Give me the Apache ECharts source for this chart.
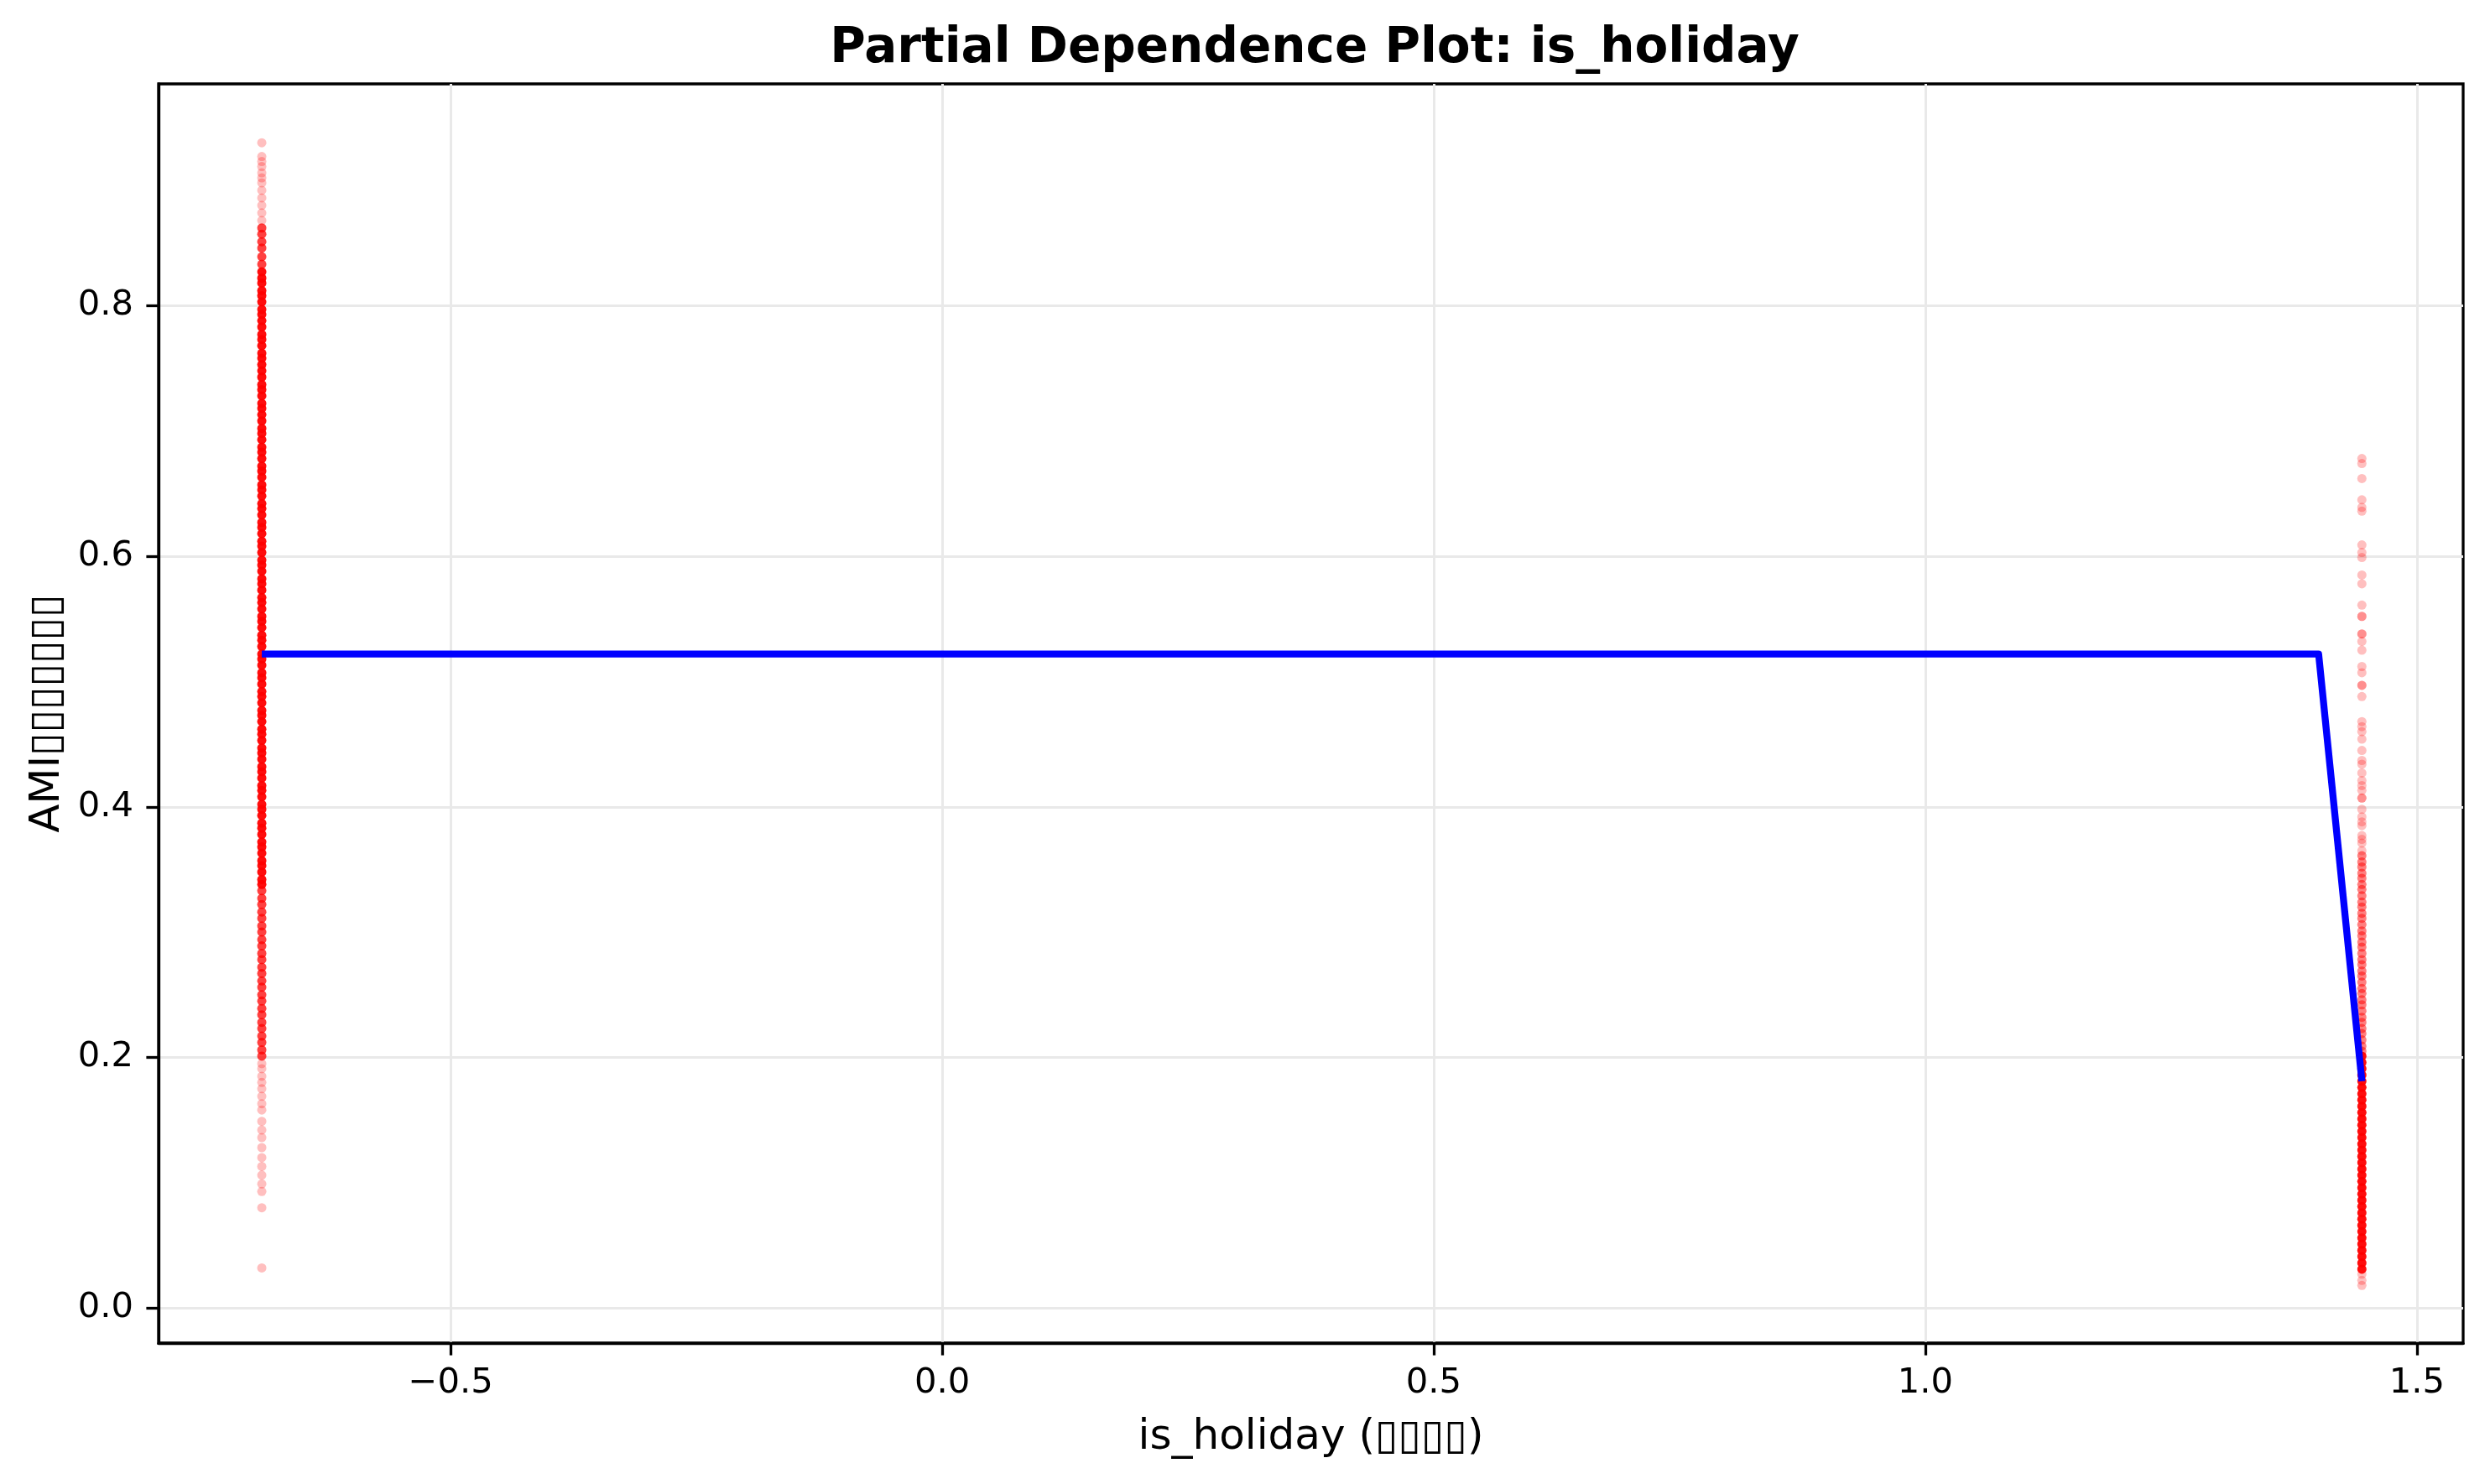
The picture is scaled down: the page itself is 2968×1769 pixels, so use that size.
<!DOCTYPE html>
<html>
<head>
<meta charset="utf-8">
<title>Partial Dependence Plot: is_holiday</title>
<script src="https://cdn.jsdelivr.net/npm/echarts@6/dist/echarts.min.js"></script>
<style>
  html, body { margin: 0; padding: 0; background: #fff; }
  #chart { width: 2968px; height: 1769px; }
</style>
</head>
<body>
<div id="chart"></div>
<script>
// standardized is_holiday values (0 / 1 after scaling)
const holidayX = [-0.692, 1.444];

// individual predictions at is_holiday = 0 (left column)
const leftFaint = [0.930, 0.919, 0.915, 0.911, 0.906, 0.902, 0.898, 0.892, 0.886, 0.880,
  0.874, 0.868,
  0.195, 0.191, 0.185, 0.180, 0.175, 0.169, 0.163, 0.158, 0.149, 0.142, 0.136, 0.128,
  0.120, 0.113, 0.106, 0.099, 0.093, 0.080, 0.032];
const leftMid = [0.862, 0.857, 0.851, 0.846, 0.839, 0.833,
  0.333, 0.327, 0.322, 0.316, 0.311, 0.305, 0.300, 0.294, 0.289, 0.283,
  0.278, 0.272, 0.267, 0.261, 0.256, 0.250, 0.245, 0.239, 0.234, 0.228, 0.223, 0.217,
  0.212, 0.206, 0.201];
const leftDense = [0.827, 0.822, 0.818, 0.812, 0.808, 0.803, 0.797, 0.793, 0.788, 0.783,
  0.777, 0.773, 0.768, 0.762, 0.758, 0.753, 0.748, 0.743, 0.737, 0.733, 0.728, 0.722,
  0.718, 0.713, 0.708, 0.702, 0.698, 0.693, 0.687, 0.683, 0.678, 0.672, 0.668, 0.663,
  0.657, 0.653, 0.648, 0.642, 0.638, 0.633, 0.627, 0.623, 0.618, 0.612, 0.608, 0.603,
  0.597, 0.593, 0.588, 0.582, 0.578, 0.573, 0.567, 0.563, 0.558, 0.552, 0.548, 0.543,
  0.537, 0.533, 0.528, 0.522, 0.518, 0.513, 0.507, 0.503, 0.498, 0.492, 0.488, 0.483,
  0.477, 0.473, 0.468, 0.462, 0.458, 0.453, 0.447, 0.443, 0.438, 0.432, 0.428, 0.423,
  0.417, 0.413, 0.408, 0.402, 0.398, 0.393, 0.387, 0.383, 0.378, 0.372, 0.368, 0.363,
  0.357, 0.353, 0.348, 0.342, 0.338];

// individual predictions at is_holiday = 1 (right column)
const rightFaint = [0.678, 0.674, 0.662, 0.645, 0.639, 0.636, 0.609, 0.603, 0.599, 0.585,
  0.578, 0.561, 0.552, 0.552, 0.538, 0.538, 0.532, 0.525, 0.512, 0.507, 0.497, 0.497,
  0.488, 0.468, 0.464, 0.460, 0.454, 0.445, 0.437, 0.434, 0.427, 0.421, 0.417, 0.413,
  0.407, 0.407, 0.398, 0.392, 0.388, 0.385, 0.377, 0.374, 0.371, 0.365,
  0.027, 0.022, 0.018];
const rightMid = [0.361, 0.356, 0.352, 0.347, 0.343, 0.338, 0.334, 0.329, 0.324, 0.320,
  0.315, 0.311, 0.306, 0.301, 0.297, 0.292, 0.288, 0.283, 0.278, 0.274, 0.269, 0.265,
  0.260, 0.255, 0.251, 0.246, 0.242, 0.237, 0.232, 0.228, 0.223, 0.219, 0.214, 0.209,
  0.205];
const rightDense = [0.201, 0.196, 0.191, 0.186, 0.181, 0.176, 0.171, 0.166, 0.161, 0.156,
  0.151, 0.146, 0.141, 0.136, 0.131, 0.126, 0.121, 0.116, 0.111, 0.106, 0.101, 0.096,
  0.091, 0.086, 0.081, 0.076, 0.071, 0.066, 0.061, 0.056, 0.051, 0.046, 0.041, 0.036,
  0.031];

// partial dependence curve
const pdpX = [-0.692, 1.400, 1.444];
const pdpY = [0.522, 0.522, 0.181];

const xTicks = [-0.5, 0.0, 0.5, 1.0, 1.5];
const yTicks = [0.0, 0.2, 0.4, 0.6, 0.8];

const FONT = 'DejaVu Sans';

function fmt(v) {
  return v.toFixed(1).replace('-', '\u2212');
}

function cloud(x, ys, opacity) {
  return {
    type: 'scatter',
    symbol: 'circle',
    symbolSize: 11,
    silent: true,
    itemStyle: { color: '#ff0000', opacity: opacity },
    data: ys.map(y => [x, y]),
    z: 2
  };
}

const chart = echarts.init(document.getElementById('chart'), null, { renderer: 'canvas' });

const option = {
  backgroundColor: '#ffffff',
  animation: false,
  title: {
    text: 'Partial Dependence Plot: is_holiday',
    left: 1562,
    top: 25,
    textAlign: 'center',
    textStyle: { fontFamily: FONT, fontWeight: 'bold', fontSize: 58, color: '#000' }
  },
  grid: {
    left: 189,
    right: 32,
    top: 100,
    bottom: 168,
    show: true,
    borderColor: '#000',
    borderWidth: 3.3
  },
  xAxis: {
    type: 'value',
    min: -0.797,
    max: 1.547,
    name: 'is_holiday (\u25AF\u25AF\u25AF\u25AF)',
    nameLocation: 'middle',
    nameGap: 88,
    nameTextStyle: { fontFamily: FONT, fontSize: 50, color: '#000' },
    axisLine: { show: true, onZero: false, lineStyle: { color: '#000', width: 3.3 } },
    axisTick: { show: true, customValues: xTicks, length: 14.6, lineStyle: { color: '#000', width: 3.3 } },
    axisLabel: { customValues: xTicks, margin: 27, formatter: fmt, fontFamily: FONT, fontSize: 41.7, color: '#000' },
    splitLine: { show: true, lineStyle: { color: '#e9e9e9', width: 3 } }
  },
  yAxis: {
    type: 'value',
    min: -0.028,
    max: 0.977,
    name: 'AMI\u25AF\u25AF\u25AF\u25AF\u25AF\u25AF\u25AF',
    nameLocation: 'middle',
    nameGap: 107,
    nameTextStyle: { fontFamily: FONT, fontSize: 50, color: '#000' },
    axisLine: { show: true, onZero: false, lineStyle: { color: '#000', width: 3.3 } },
    axisTick: { show: true, customValues: yTicks, length: 14.6, lineStyle: { color: '#000', width: 3.3 } },
    axisLabel: { customValues: yTicks, margin: 30, formatter: fmt, fontFamily: FONT, fontSize: 41.7, color: '#000' },
    splitLine: { show: true, lineStyle: { color: '#e9e9e9', width: 3 } }
  },
  series: [
    cloud(holidayX[0], leftFaint, 0.25),
    cloud(holidayX[0], leftMid, 0.75),
    cloud(holidayX[0], leftDense, 0.95),
    cloud(holidayX[1], rightFaint, 0.25),
    cloud(holidayX[1], rightMid, 0.5),
    cloud(holidayX[1], rightDense, 0.95),
    {
      type: 'line',
      data: pdpX.map((x, i) => [x, pdpY[i]]),
      showSymbol: false,
      symbol: 'none',
      silent: true,
      lineStyle: { color: '#0000ff', width: 8.3, join: 'round' },
      z: 5
    }
  ]
};

chart.setOption(option);
</script>
</body>
</html>
